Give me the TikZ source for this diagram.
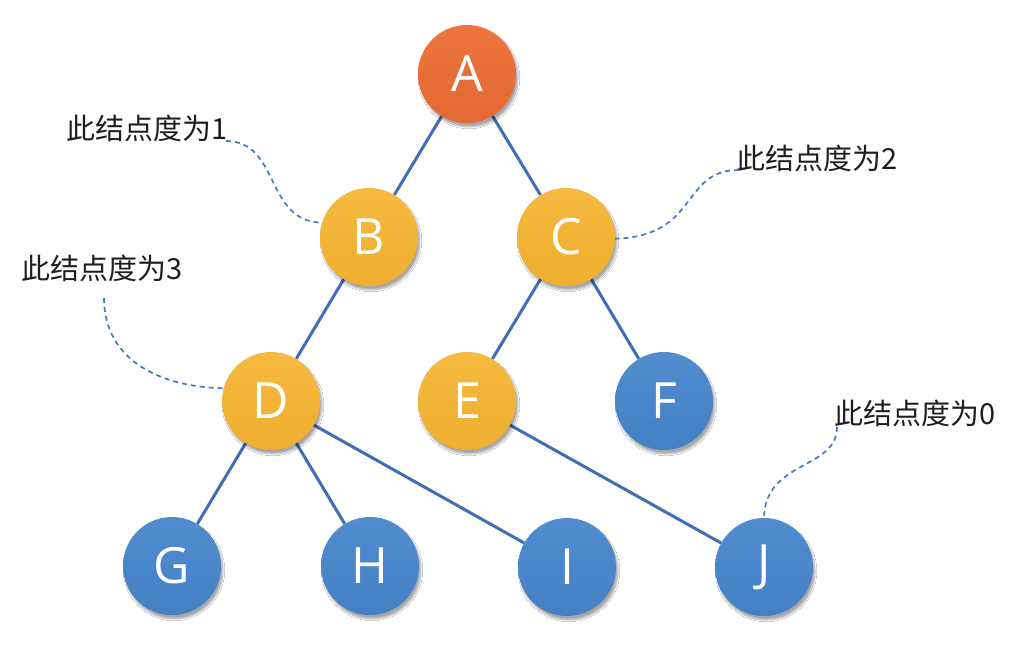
\documentclass[tikz,border=0pt]{standalone}
\usepackage{fontspec}
\newfontfamily\cjk{Noto Sans CJK SC}
\newfontfamily\letterfont{Open Sans}
\usetikzlibrary{shadows.blur,backgrounds}
\definecolor{orangeT}{RGB}{236,118,62}
\definecolor{orangeB}{RGB}{228,104,50}
\definecolor{yellowT}{RGB}{245,186,64}
\definecolor{yellowB}{RGB}{239,174,46}
\definecolor{blueT}{RGB}{80,140,206}
\definecolor{blueB}{RGB}{68,128,196}
\definecolor{edgecol}{RGB}{62,110,180}
\definecolor{dashcol}{RGB}{74,120,190}
\definecolor{txtcol}{RGB}{30,30,30}
\tikzset{
  treenode/.style={circle, minimum size=98pt, inner sep=0pt, text=white,
    font=\letterfont\fontsize{50}{50}\selectfont,
    blur shadow={shadow xshift=2pt, shadow yshift=-4pt, shadow blur steps=8, shadow opacity=35}},
  rootnode/.style={treenode, top color=orangeT, bottom color=orangeB},
  midnode/.style={treenode, top color=yellowT, bottom color=yellowB},
  leafnode/.style={treenode, top color=blueT, bottom color=blueB},
  edge/.style={draw=edgecol, line width=3pt},
  note/.style={text=txtcol, font=\cjk\fontsize{29}{29}\selectfont, inner sep=0pt},
  noteline/.style={draw=dashcol, line width=1.7pt, dash pattern=on 5pt off 4pt}
}
\begin{document}
\begin{tikzpicture}[x=1pt,y=-1pt]
\useasboundingbox (0,0) rectangle (1032,654);
\node[rootnode] (A) at (467,74) {A};
\node[midnode] (B) at (369,237) {B};
\node[midnode] (C) at (566,237) {C};
\node[midnode] (D) at (271,401) {D};
\node[midnode] (E) at (467,401) {E};
\node[leafnode] (F) at (664,401) {F};
\node[leafnode] (G) at (172,566) {G};
\node[leafnode] (H) at (370,566) {H};
\node[leafnode] (I) at (567,567) {I};
\node[leafnode] (J) at (764,567) {J};
\begin{scope}[on background layer]
\fill[white] (0,0) rectangle (1032,654);
\draw[edge] (A) -- (B);
\draw[edge] (A) -- (C);
\draw[edge] (B) -- (D);
\draw[edge] (C) -- (E);
\draw[edge] (C) -- (F);
\draw[edge] (D) -- (G);
\draw[edge] (D) -- (H);
\draw[edge] (D) -- (I);
\draw[edge] (E) -- (J);
\end{scope}
\node[note] (t1) at (147,128) {此结点度为1};
\node[note] (t2) at (817,158) {此结点度为2};
\node[note] (t3) at (102,268) {此结点度为3};
\node[note] (t0) at (915,413) {此结点度为0};
\coordinate (s1) at (226,141);
\coordinate (s2) at (739,170);
\coordinate (s3) at (104,298);
\coordinate (s0) at (837,427);
\draw[noteline] (s1) .. controls (280,141) and (265,222) .. (B.163);
\draw[noteline] (s2) .. controls (680,170) and (700,236) .. (C.-2);
\draw[noteline] (s3) .. controls (104,360) and (160,387) .. (D.165);
\draw[noteline] (s0) .. controls (837,470) and (765,460) .. (J.90);
\end{tikzpicture}
\end{document}
